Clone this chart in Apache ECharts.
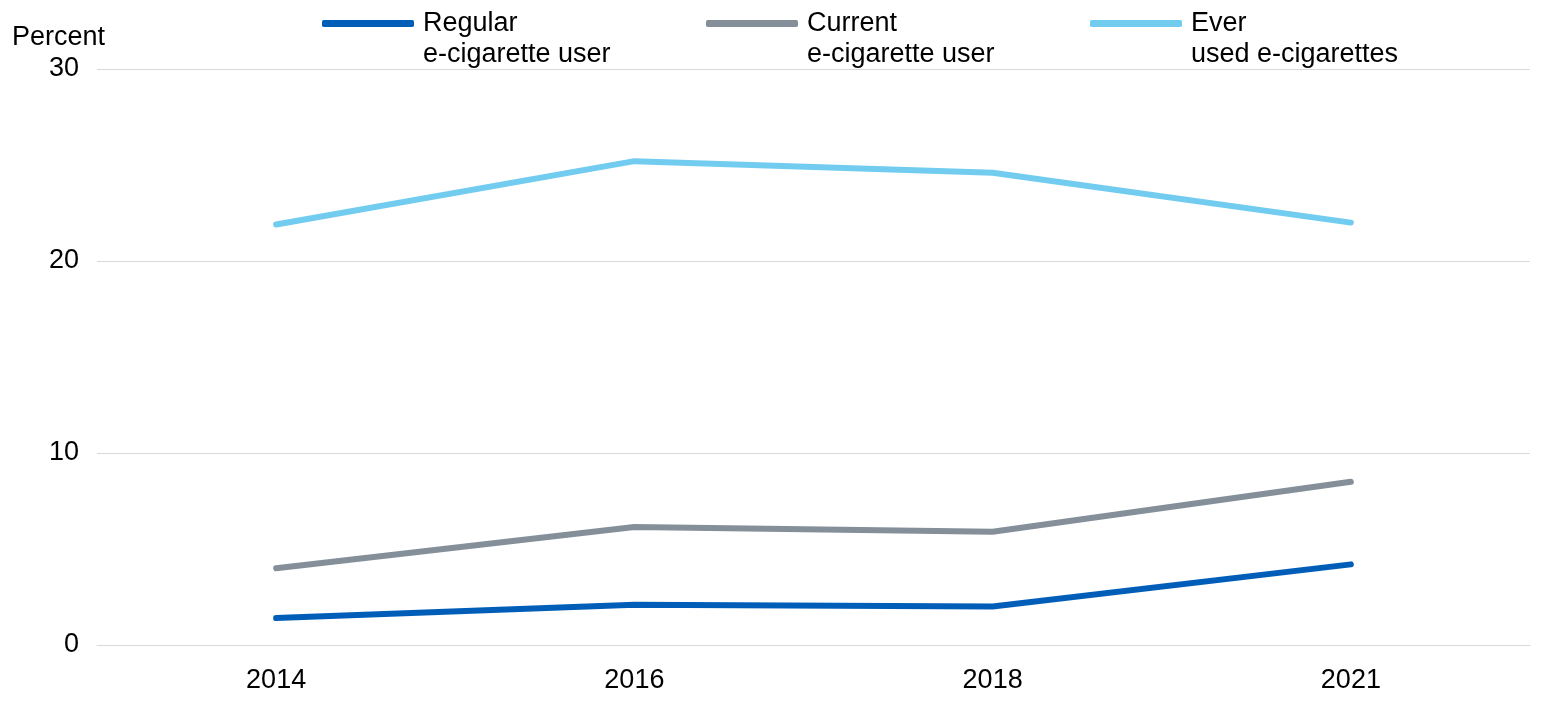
<!DOCTYPE html>
<html>
<head>
<meta charset="utf-8">
<script src="https://cdn.jsdelivr.net/npm/echarts@6/dist/echarts.min.js"></script>
<style>html,body{margin:0;padding:0;background:#fff}#c{width:1560px;height:715px}</style>
</head>
<body>
<div id="c"></div>
<script>
const years = ['2014', '2016', '2018', '2021'];
const regular = [1.4, 2.1, 2.0, 4.2];
const current = [4.0, 6.15, 5.9, 8.5];
const ever = [21.9, 25.2, 24.6, 22.0];
const seriesNames = ['Regular\ne-cigarette user', 'Current\ne-cigarette user', 'Ever\nused e-cigarettes'];
const colors = ['#005EB8', '#848F99', '#71CCF0'];
const yTicks = [0, 10, 20, 30];

const font = 'Arial, "Liberation Sans", sans-serif';
const chart = echarts.init(document.getElementById('c'));
const legendLefts = [317, 701, 1085];
const dataSets = [regular, current, ever];

chart.setOption({
  animation: false,
  textStyle: { fontFamily: font },
  title: { text: 'Percent', left: 7, top: 19, textStyle: { fontSize: 27, fontWeight: 'normal', color: '#000', fontFamily: font } },
  legend: seriesNames.map((n, i) => ({
    data: [n], left: legendLefts[i], top: -28, itemWidth: 92, itemHeight: 7, itemGap: 0,
    icon: 'roundRect',
    formatter: name => '\n' + name,
    textStyle: { fontSize: 27, color: '#000', lineHeight: 31, padding: [0, 0, 0, 4], fontFamily: font }
  })),
  grid: { left: 97, right: 30, top: 69, bottom: 70, containLabel: false },
  xAxis: {
    type: 'category', data: years, boundaryGap: true,
    axisLine: { lineStyle: { color: '#d9d9d9', width: 1 } },
    axisTick: { show: false },
    axisLabel: { fontSize: 27, color: '#000', margin: 22, fontFamily: font }
  },
  yAxis: {
    type: 'value', min: yTicks[0], max: yTicks[yTicks.length - 1], interval: 10,
    axisLine: { show: false }, axisTick: { show: false },
    splitLine: { lineStyle: { color: '#d9d9d9', width: 1 } },
    axisLabel: { fontSize: 27, color: '#000', margin: 18, fontFamily: font }
  },
  series: seriesNames.map((n, i) => ({
    name: n, type: 'line', data: dataSets[i], symbol: 'none',
    itemStyle: { color: colors[i] },
    lineStyle: { color: colors[i], width: 6, cap: 'round', join: 'round' }
  }))
});
</script>
</body>
</html>
